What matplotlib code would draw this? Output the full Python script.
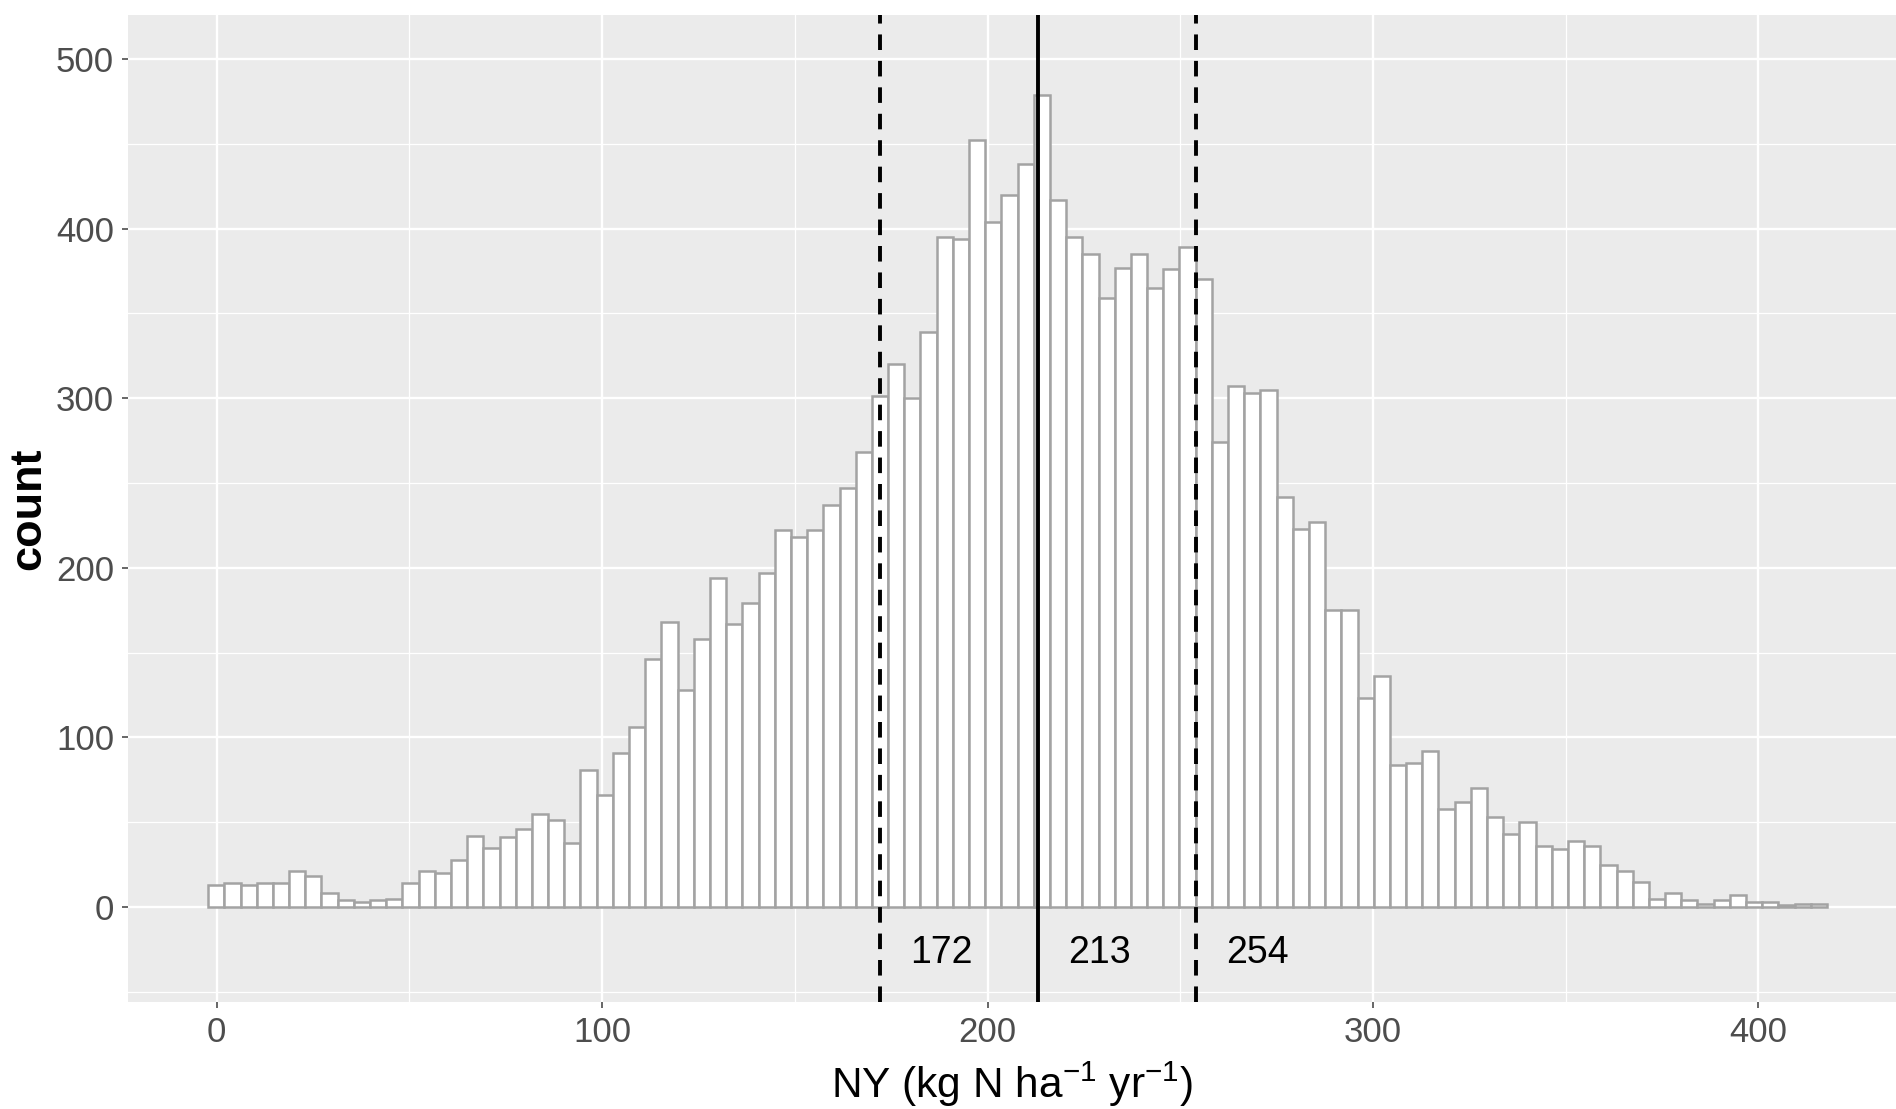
import numpy as np
import matplotlib
matplotlib.use("Agg")
import matplotlib.pyplot as plt
from matplotlib.ticker import MultipleLocator

plt.rcParams['font.family'] = ['Liberation Sans', 'DejaVu Sans']
plt.rcParams['mathtext.fontset'] = 'custom'
plt.rcParams['mathtext.rm'] = 'Liberation Sans'
plt.rcParams['mathtext.it'] = 'Liberation Sans:italic'
plt.rcParams['mathtext.bf'] = 'Liberation Sans:bold'

# histogram (bin width 4.2, first bin starts at -2.2)
bin_start = -2.2
bin_width = 4.2
counts = [13, 14, 13, 14, 14, 21, 18, 8, 4, 3,
          4, 5, 14, 21, 20, 28, 42, 35, 41, 46,
          55, 51, 38, 81, 66, 91, 106, 146, 168, 128,
          158, 194, 167, 179, 197, 222, 218, 222, 237, 247,
          268, 301, 320, 300, 339, 395, 394, 452, 404, 420,
          438, 479, 417, 395, 385, 359, 377, 385, 365, 376,
          389, 370, 274, 307, 303, 305, 242, 223, 227, 175,
          175, 123, 136, 84, 85, 92, 58, 62, 70, 53,
          43, 50, 36, 34, 39, 36, 25, 21, 15, 5,
          8, 4, 2, 4, 7, 3, 3, 1, 2, 2]

# quantiles marked on the plot
q_vals = [172, 213, 254]
q_styles = ['--', '-', '--']
q_labels = ['172', '213', '254']

x_ticks = [0, 100, 200, 300, 400]
y_ticks = [0, 100, 200, 300, 400, 500]

fig = plt.figure(figsize=(18.96, 11.09), dpi=100)
ax = fig.add_axes([0.0675, 0.0968, 0.9325, 0.8897])
ax.set_facecolor('#EBEBEB')

edges = bin_start + bin_width * np.arange(len(counts))
ax.bar(edges, counts, width=bin_width, align='edge', color='white',
       edgecolor='#a3a3a3', linewidth=1.8, zorder=3)

for v, ls in zip(q_vals, q_styles):
    if ls == '--':
        ax.axvline(v, color='black', lw=2.8, linestyle=(0, (4, 2.8)), zorder=4)
    else:
        ax.axvline(v, color='black', lw=2.8, zorder=4)

for v, lab in zip(q_vals, q_labels):
    ax.text(v + 16, -27, lab, ha='center', va='center', fontsize=27, color='black', zorder=5)

ax.set_xlim(-23, 435.7)
ax.set_ylim(-55.8, 525.9)
ax.set_xticks(x_ticks)
ax.set_yticks(y_ticks)
ax.xaxis.set_minor_locator(MultipleLocator(50))
ax.yaxis.set_minor_locator(MultipleLocator(50))
ax.grid(True, which='major', color='white', lw=1.7, zorder=0)
ax.grid(True, which='minor', color='white', lw=0.9, zorder=0)
ax.set_axisbelow(True)
for s in ax.spines.values():
    s.set_visible(False)

ax.tick_params(which='major', length=4, width=1.2, color='#4D4D4D', labelsize=25,
               labelcolor='#4D4D4D', pad=6)
ax.tick_params(which='minor', length=0)

ax.set_xlabel(r'NY (kg N ha$^{-1}$ yr$^{-1}$)', fontsize=30.5, color='black', labelpad=8)
ax.set_ylabel('count', fontsize=32.5, fontweight='bold', color='black', labelpad=5)

fig.savefig('out.png', dpi=100)
